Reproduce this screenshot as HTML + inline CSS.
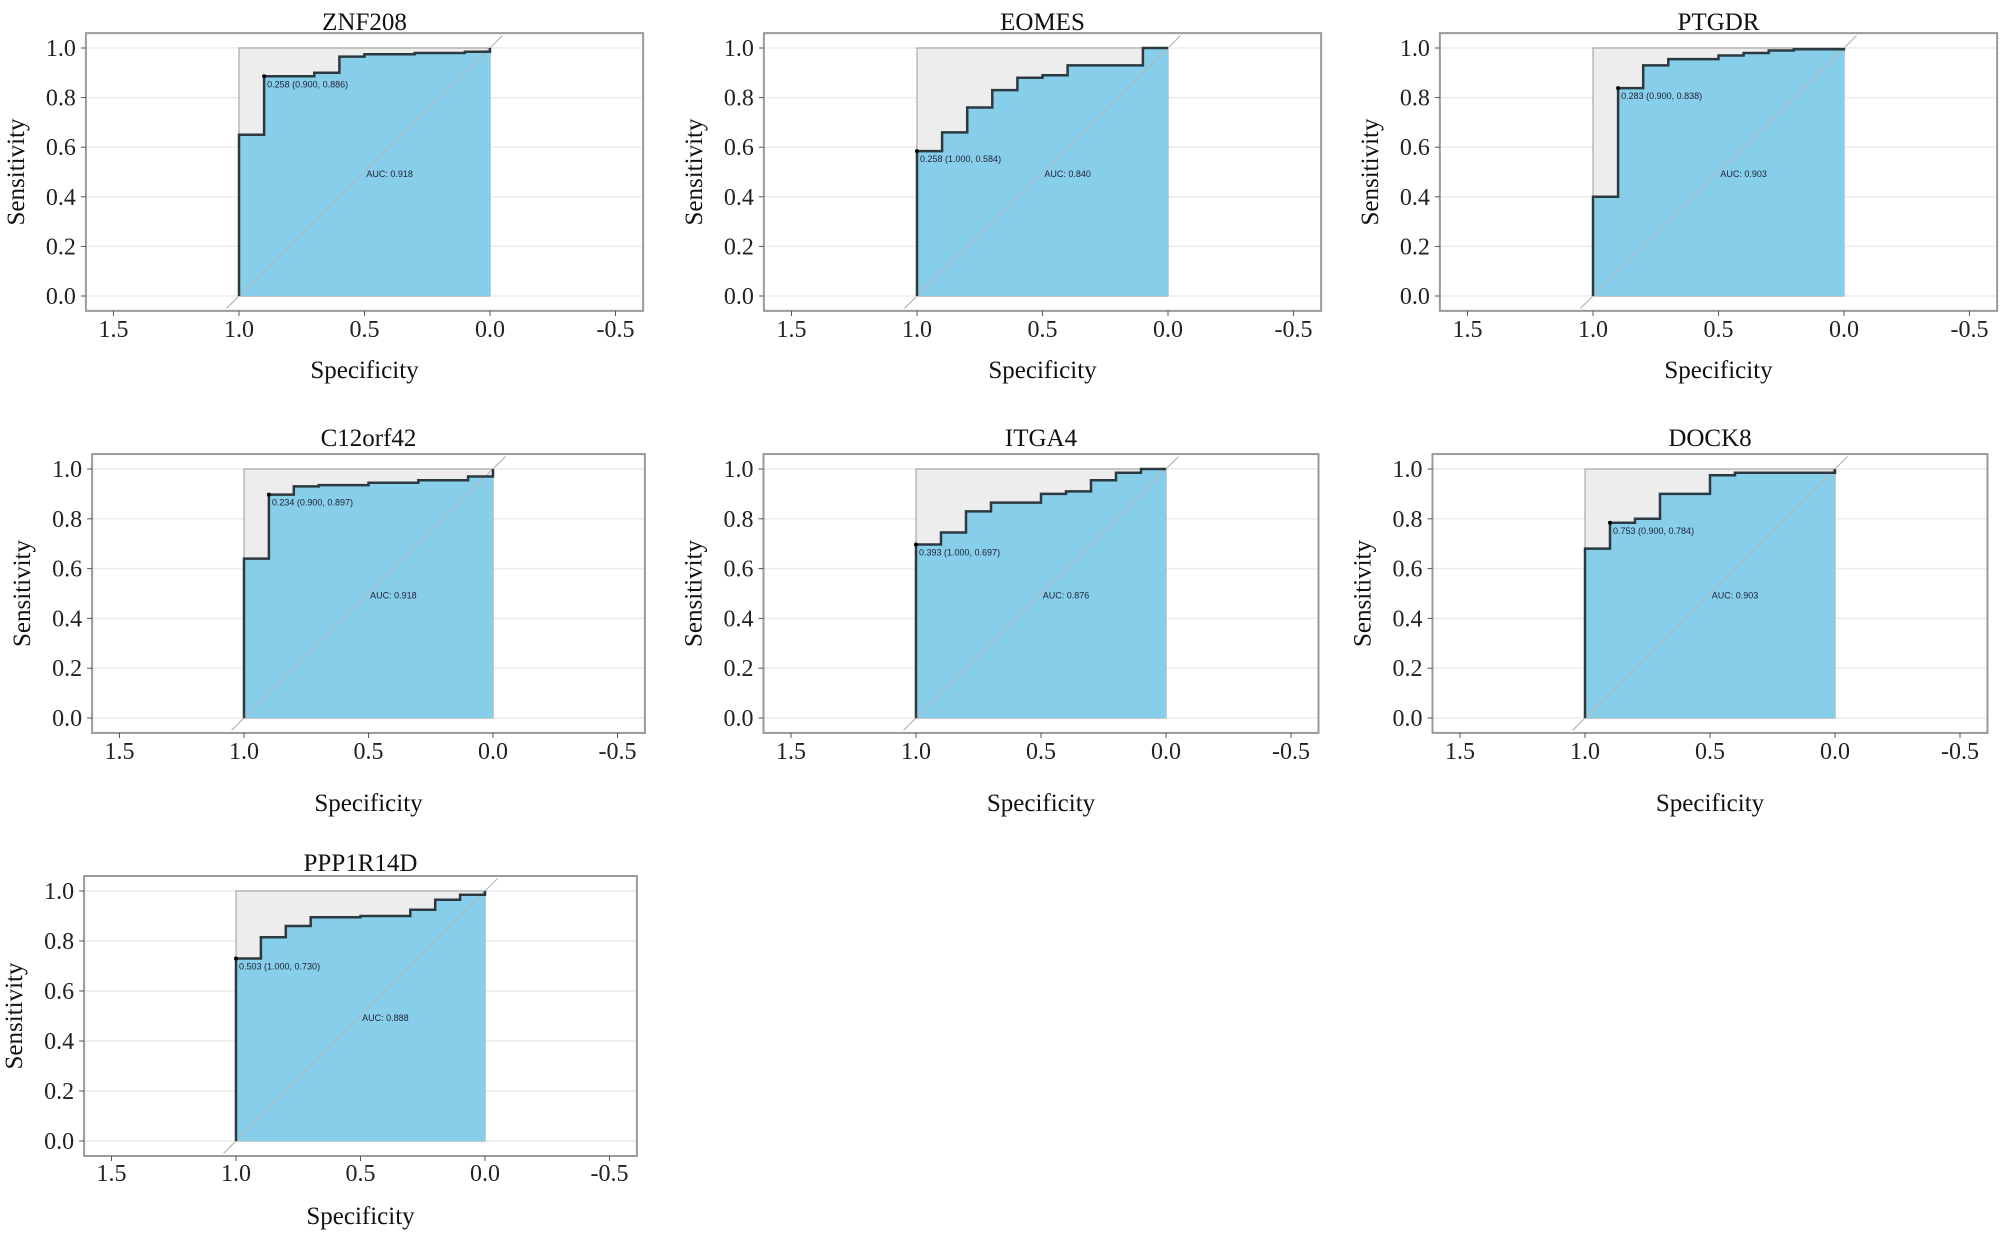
<!DOCTYPE html>
<html><head><meta charset="utf-8">
<style>
html,body{margin:0;padding:0;background:#fff;}
svg{display:block;}
</style></head>
<body>
<svg id="fig" width="2008" height="1243" viewBox="0 0 2008 1243" xmlns="http://www.w3.org/2000/svg"></svg>
<script>
// ---- data ----
const genes = ["ZNF208","EOMES","PTGDR","C12orf42","ITGA4","DOCK8","PPP1R14D"];
const startSens = [0.65,0.584,0.40,0.64,0.697,0.68,0.73];
const stepSpec = [
  [0.9,0.7,0.6,0.5,0.3,0.1,0],
  [0.9,0.8,0.7,0.6,0.5,0.4,0.1],
  [0.9,0.8,0.7,0.5,0.4,0.3,0.2,0],
  [0.9,0.8,0.7,0.5,0.3,0.1,0],
  [0.9,0.8,0.7,0.5,0.4,0.3,0.2,0.1],
  [0.9,0.8,0.7,0.5,0.4,0],
  [0.9,0.8,0.7,0.5,0.3,0.2,0.1,0]
];
const stepSens = [
  [0.886,0.90,0.965,0.975,0.98,0.985,1.0],
  [0.66,0.76,0.83,0.88,0.89,0.93,1.0],
  [0.838,0.93,0.955,0.97,0.98,0.99,0.995,1.0],
  [0.897,0.93,0.935,0.945,0.955,0.97,0.985],
  [0.745,0.83,0.865,0.90,0.91,0.955,0.985,1.0],
  [0.784,0.80,0.90,0.975,0.985,0.99],
  [0.815,0.86,0.895,0.90,0.925,0.965,0.985,1.0]
];
const bestLabels = ["0.258 (0.900, 0.886)","0.258 (1.000, 0.584)","0.283 (0.900, 0.838)","0.234 (0.900, 0.897)","0.393 (1.000, 0.697)","0.753 (0.900, 0.784)","0.503 (1.000, 0.730)"];
const bestSpec = [0.9,1.0,0.9,0.9,1.0,0.9,1.0];
const bestSens = [0.886,0.584,0.838,0.897,0.697,0.784,0.730];
const aucLabels = ["AUC: 0.918","AUC: 0.840","AUC: 0.903","AUC: 0.918","AUC: 0.876","AUC: 0.903","AUC: 0.888"];
const xTicks = [1.5,1.0,0.5,0.0,-0.5];
const xTickLabels = ["1.5","1.0","0.5","0.0","-0.5"];
const yTicks = [0,0.2,0.4,0.6,0.8,1.0];
const yTickLabels = ["0.0","0.2","0.4","0.6","0.8","1.0"];

// ---- layout ----
const px1 = [239,917,1593,244,916,1585,236];
const px0 = [490,1168,1844,493,1166,1835,485];
const rowOf = [0,0,0,1,1,1,2];
const rowY1 = [48,469,891];
const rowY0 = [296,718,1141];
const rowTitle = [30,446,871];
const rowTick = [337,759,1181];
const rowXlab = [378,811,1224];

const NS="http://www.w3.org/2000/svg";
const svg=document.getElementById('fig');
function mk(tag,attrs,parent){const e=document.createElementNS(NS,tag);for(const k in attrs)e.setAttribute(k,attrs[k]);(parent||svg).appendChild(e);return e;}

genes.forEach((g,i)=>{
  const r=rowOf[i];
  const sx=v=>px0[i]+(px1[i]-px0[i])*v;
  const sy=v=>rowY0[r]+(rowY1[r]-rowY0[r])*v;
  const grp=mk('g',{});
  
  
  const bl=sx(1.61), br=sx(-0.61), bt=sy(1.06), bb=sy(-0.06);
  yTicks.forEach(t=>{
    const l=mk('line',{x1:bl,x2:br,y1:sy(t),y2:sy(t),stroke:'#ececec','stroke-width':1.5},grp);
    
    
  });
  let pts=[[1,0],[1,startSens[i]]];
  let cur=startSens[i];
  stepSpec[i].forEach((x,k)=>{pts.push([x,cur]);cur=stepSens[i][k];pts.push([x,cur]);});
  pts.push([0,cur]);
  const grey=mk('rect',{x:sx(1),y:sy(1),width:sx(0)-sx(1),height:sy(0)-sy(1),fill:'#ededed',stroke:'#999','stroke-width':1},grp);
  
  
  const polyPts=pts.concat([[0,0]]).map(p=>sx(p[0])+','+sy(p[1])).join(' ');
  const area=mk('polygon',{points:polyPts,fill:'#87ceeb',stroke:'none'},grp);
  
  
  const diag=mk('line',{x1:sx(1.05),y1:sy(-0.05),x2:sx(-0.05),y2:sy(1.05),stroke:'#b0b8c0','stroke-width':1.2},grp);
  
  
  const line=mk('polyline',{points:pts.concat([[0,1]]).map(p=>sx(p[0])+','+sy(p[1])).join(' '),fill:'none',stroke:'#2b3a40','stroke-width':2.5},grp);
  
  
  const dot=mk('circle',{cx:sx(bestSpec[i]),cy:sy(bestSens[i]),r:2,fill:'#000'},grp);
  
  
  const bt1=mk('text',{x:sx(bestSpec[i])+3,y:sy(bestSens[i])+11,'font-family':'Liberation Sans, sans-serif','font-size':9,fill:'#223'},grp);
  bt1.textContent=bestLabels[i];
  
  
  const at=mk('text',{x:sx(0.4),y:sy(0.48),'text-anchor':'middle','font-family':'Liberation Sans, sans-serif','font-size':9,fill:'#223'},grp);
  at.textContent=aucLabels[i];
  
  
  const fr=mk('rect',{x:bl,y:bt,width:br-bl,height:bb-bt,fill:'none',stroke:'#9a9a9a','stroke-width':2},grp);
  
  
  yTicks.forEach((t,k)=>{
    mk('line',{x1:bl-5,x2:bl,y1:sy(t),y2:sy(t),stroke:'#555','stroke-width':1},grp);
    const tx=mk('text',{x:bl-10,y:sy(t)+8,'text-anchor':'end','font-family':'Liberation Serif, serif','font-size':24,fill:'#222'},grp);
    tx.textContent=yTickLabels[k];
    
    
  });
  xTicks.forEach((t,k)=>{
    mk('line',{x1:sx(t),x2:sx(t),y1:bb,y2:bb+5,stroke:'#555','stroke-width':1},grp);
    const tx=mk('text',{x:sx(t),y:rowTick[r],'text-anchor':'middle','font-family':'Liberation Serif, serif','font-size':24,fill:'#222'},grp);
    tx.textContent=xTickLabels[k];
    
    
  });
  const ti=mk('text',{x:(bl+br)/2,y:rowTitle[r],'text-anchor':'middle','font-family':'Liberation Serif, serif','font-size':25,fill:'#111'},grp);
  ti.textContent=g;
  
  
  const xl=mk('text',{x:sx(0.5),y:rowXlab[r],'text-anchor':'middle','font-family':'Liberation Serif, serif','font-size':25,fill:'#111'},grp);
  xl.textContent='Specificity';
  
  
  const yc=(sy(0)+sy(1))/2, yx=bl-62;
  const yl=mk('text',{x:yx,y:yc,'text-anchor':'middle','font-family':'Liberation Serif, serif','font-size':25,fill:'#111',transform:'rotate(-90 '+yx+' '+yc+')'},grp);
  yl.textContent='Sensitivity';
  
  
});
</script>
</body></html>
